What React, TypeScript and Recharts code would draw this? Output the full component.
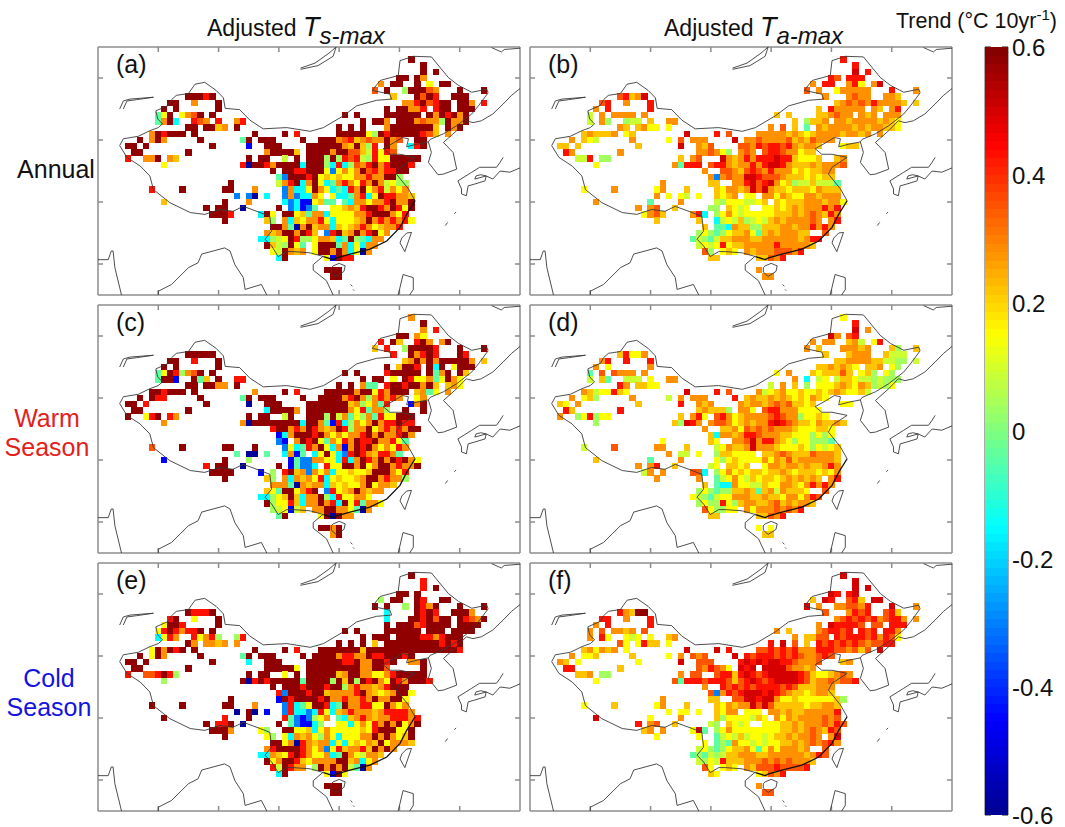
import { ScatterChart, Scatter, XAxis, YAxis } from 'recharts'

// each row is "lon codes lon codes", first row is lat 53, one row per degree southwards
const TOP_LAT = 53
const trendByCode: Record<string, number> = {
  N: -0.58, B: -0.45, L: -0.3, C: -0.15, G: -0.04, g: 0.04, l: 0.09, Y: 0.15,
  A: 0.22, O: 0.28, o: 0.35, R: 0.43, D: 0.5, M: 0.58,
}

const rowsA = [
  '122 M', '124 M', '124 M 126 M', '120 MM 123 MO', '117 O 119 MM 123 M 125 Y 127 MM',
  '116 o 118 M 121 gMMMoO 130 M 134 M', '85 MMMRM 119 A 123 MoMR 129 MMM',
  '82 MM 86 O 90 M 121 OORMoRMM 130 MM 132 O 134 R', '81 M 83 M 90 M 118 M 120 MMOOR 126 RMM 130 MMM',
  '80 GYM 84 YOoM 89 M 111 M 113 M 118 MMMMMM 125 MOMRMOM', '80 GOMC 86 RoO 90 R 93 OR 114 M 116 MMO 120 MMMOoOOgMOOM',
  '85 MM 88 MMAO 93 M 110 M 112 M 114 M 118 OMMMMMMMA 128 MOM', '79 OMRMMM 86 M 96 M 101 M 103 R 110 MMMMMYgMRMMMMMRoA 128 O',
  '77 M 79 OMO 87 M 94 GM 97 MMM 104 M 107 MMMOoRAOoOOMOo 123 MM', '75 MM 78 M 89 M 95 B 98 MMM 105 MMMMMMOAMAgR 118 MO 122 CRM',
  '76 MM 85 M 98 OMMMMA 105 MMMMOMMooAlRYRo', '75 R 78 OOM 82 OA 95 M 97 MM 101 l 103 M 105 MMMgMgRoRlgRYYMMMMM',
  '81 Y 94 RNMMRO 100 MMMMC 105 MMMgCRCgoORMORMMMR', '99 M 101 MMRR 105 MMMYLYOYOMoRORRMM',
  '100 GLMMMRMYAYAYYOOROOMMg', '92 M 100 lORMCOMYCGOROYROMOlYgg', '79 R 84 M 91 MM 96 O 101 LOCCYMOYCGCROMYORlOYO',
  '93 L 95 LN 98 C 101 LOLCCOY.YCCGORCYMRROOA', '81 A 91 M 95 O 101 CLCBBYAGG.GCOOYOORMOOM',
  '88 M 90 MM 94 N 100 M 102 LCBLG..YYAOARMMROMRYM', '89 MMMR 97 CMY 101 MMYAGOOCYYYYOORMMMOYR',
  '91 M 98 Ag 101 OCAYOORYCYYYAOMORORORY', '99 MMOGNOMAOOCAYAOROYAOOR', '98 OAOMMOMRA.LRMAOMORMYO',
  '97 CCglYMRggYOOACGMgGCOO', '98 MAlgMYG.YMMMGOCYCOO', '99 YlMOAO 106 YMMOMOCYNO', '100 CM 108 YBMRR', '', '108 MMM', '109 MM',
]

const rowsB = [
  '122 R', '124 R', '124 D 126 R', '120 Ro 123 RRR', '117 O 119 RR 123 ORY 127 OD', '116 o 118 O 121 YOOOOO 130 R 134 O',
  '85 oRAOD 119 O 123 OoOO 129 OOA', '82 oR 86 O 90 R 121 AOoOoOROOOOA 134 A', '81 O 83 R 90 R 118 A 120 ROOOOO 127 OA 130 OR',
  '80 l 82 O 84 OOOO 89 O 111 A 113 A 118 AAOoOO 125 OAO 129 OOO', '80 l 82 Og 86 gll 90 A 93 OO 114 A 116 gAAO 121 OOAOOOOAOAY',
  '85 OA 88 AOYY 93 Y 110 O 112 o 114 A 116 G 118 OAOOOOAOAOOAAY', '79 AOAAAO 86 YA 96 D 101 R 103 o 108 OOOOOAOAYAOOOOAOOAO 128 O',
  '77 O 79 AYl 87 O 93 Y 95 o 97 OOO 104 D 106 OOoOOOOoAOAoOOO', '75 AA 78 A 88 A 95 D 98 OAo 105 ooORoRRoROAOOA 122 YAA',
  '76 RO 85 O 98 OOoOYg 105 OoO.oRRoOOYAA', '78 llR 82 gg 95 A 97 Oo 102 DOAORORRRDRRAYYYA 121 AO',
  '81 Y 94 OGRRR 100 oRROAOORORDDROAAAOAOOOo', '99 O 102 ooOAoRoOROOOYAYAAOO', '100 OLOoOODDRoooOAAAYAYAA',
  '92 O 100 AA 104 OORDoRDOYAgllAlllG', '79 Y 84 O 91 YO 96 A 101 AYOOAODoDOAAYAAAYOAAA', '91 O 93 Y 95 Yl 98 Y 101 AYAO.YY.OOYOAYYOOAOOO',
  '81 O 90 G 95 O 101 lgYYYllYA.AYAAAOOOAOOY', '88 O 90 Oo 94 A 100 gg.AYlY..YYAYAOAOOOROR', '89 YOoA 97 ORC.gYOYlYYYYYAAAOAOoOARO',
  '91 A 98 A 101 ClYlAglYlAOAOOOOoO.OR', '99 A 101 GGCOAAggAAAOOAOORORO', '98 gYgGgYAAOYGAOAOOOAA..o', '97 GlgGlAAOOOAAOOOOOOAORR',
  '98 lYlYRYAAOOOOOROOOOOA', '99 og 102 YAY 106 OAOOOoooOR', '100 AA 108 AAoOR', '', '108 O', '109 OO',
]

const rowsC = [
  '122 O', '124 M', '124 O 126 R', '120 MM 123 OY', '117 R 119 MA 123 RMO 127 OM', '116 A 118 R 121 gMMMMR 130 M 134 M',
  '85 MMMMM 119 R 122 MORMR 130 MR', '82 MM 86 R 90 M 121 AOMOMOMMMMMO 134 A', '81 M 83 M 90 M 118 M 120 AMMR 125 MCM 129 YMMM',
  '80 GYMRgOoM 89 M 111 M 113 M 118 RMMMMM 125 MGOM 130 MA', '80 GMMB 86 MGA 90 M 93 RR 114 M 116 MM 119 Y 121 MRYYOGY 128 MO 130 Y',
  '85 MM 88 MMOO 93 M 110 M 112 M 114 OGG 118 RMMRMMOMA 128 AOY', '79 MMRMMM 86 M 96 O 101 M 103 R 108 MMMMMOMMYRO 119 MMM 123 AOGY 128 O',
  '77 M 79 MRR 87 M 94 GM 97 MMM 104 M 107 MMMMORMOgORORO 123 YO', '75 MM 78 R 88 M 95 N 98 MMM 105 MMMMMMMAOgYOGR 122 BOM',
  '76 MM 85 M 98 CMMMMO 105 MMMMMMMOYRGOOg 121 M 124 M', '75 M 78 YRM 82 RO 95 M 97 MM 101 l 102 M 105 MMMgMlOGYgOGRYYMMM',
  '81 O 94 ONMMMM 100 MMMMC 105 MMOGBRCgOYOMORRMRR', '99 R 100 MMOROM 106 ROAOMRgOOMYOROROMM', '100 BCOMMMRMOYOYOORMOMOORMO',
  '100 LB 103 OMRMYGOYROMRRMOORYG', '79 o 84 M 91 MM 96 M 101 LYCGROMYCOBOMRMOYOYRO', '93 G 95 NN 98 G 101 COBG.CYMYCLRMROARROG',
  '81 B 91 M 95 g 102 BGLLOOYYCRCOMROMOMRMOY', '88 R 90 MM 94 N 100 M 102 BGLLC.RYYMMOMYOMMOROOM', '89 MMMM 97 B 99 g 101 RMAOLOYOCYYAYYAMMMOYR',
  '91 M 98 Ag 101 OCOAOYRCYAYYAOMMOROOg', '99 OOOGNOAOOCAYAYYOMYOOA', '98 AYGMMYORM.LRYAOMOAOO', '97 CCgYAMACOOMgCRYYOOY',
  '98 MgYYRACOOMORCMYRGOOY', '99 glYBlA 106 OOMMOOYGNO', '100 GM 107 YMNMOO', '', '107 M 108 MOM', '109 OM',
]

const rowsD = [
  '122 Y', '124 R', '124 D 126 O', '120 DO 123 oR', '117 O 119 OO 123 AOl 127 YR', '116 O 118 A 122 OOOAO 130 Ag 134 A',
  '85 ARYYO 119 A 123 AOOO 129 Alll', '82 OR 86 R 90 R 121 AAOOOOAAllgg 134 l', '81 O 83 Y 90 O 118 AA 120 OAOAY 126 AAO 130 Yg',
  '80 G 82 o 84 oOOO 89 O 111 Y 113 O 117 AYAAAoA 125 YAg 129 Yg', '80 l 82 AG 86 lll 90 Y 93 OO 114 O 116 C 118 lY 121 lAAYllglggg',
  '85 RO 88 AAYY 110 l 112 O 114 A 116 g 118 YYYAOAYOAglgY', '79 OAlYYRAY 96 D 101 R 103 o 108 OlYAOYYAYYAYAOAYYAl',
  '77 O 79 YAg 87 O 93 l 95 O 97 OOO 104 R 106 AOAAOAOAYAYOAY', '75 AY 78 O 88 A 95 R 98 OAO 105 OAOOAOoOoAAYA 122 YY',
  '76 RA 85 R 98 AOAAAg 105 OOY.oRROOOYYYY', '75 O 78 gYRg 82 YY 95 A 97 ORY.oROYAOOOOoRoOOgYYAY',
  '81 g 94 AgDRO 100 OooOYAOAOORDRoOAAYOAAOA', '99 O 102 AAOYoOoOoOOOAYYYAAY', '100 ACOOAORRoOOOAAYYYgYgY',
  '92 Y 100 AY 104 OOoDORROAYgYYgggG', '79 l 84 o 91 OO 96 A 101 lYOAAODOOOAYYYAYgYlYA', '93 O 95 ll 98 Y 101 gAAYYYY.AAOoOAAAoOOOA',
  '81 A 90 G 95 O 101 YgYAYYYYOYOAoAOOOOOOA', '88 O 90 OR 94 A 100 lY.AAYA..YOOAOOAOAAORO', '89 lO 92 O 97 ooC.gYOYAYAAYAAOAYAAAYAYO',
  '91 O 98 O 101 GlYOYlAYAAYAOAOAOA.OR', '99 A 101 GCCOYYllAYYOOAYORORO', '98 gYgGggAAOAGAOlOAAAY..o', '97 YlgGlYYOOOAAOAAYOOYORo',
  '98 gYggRYgAOOAAOoAOAOOA', '99 oYgg 103 YY 106 OYOOOoOoOR', '100 AA 108 AAoOR', '', '108 Y 110 Y', '109 AA',
]

const rowsE = [
  '122 M', '124 R', '124 R 126 M', '120 MM 123 M', '117 g 119 MM 123 MR 127 MM', '116 M 118 M 121 g 123 MRO 126 M 130 M 134 M',
  '85 MRRRM 118 C 123 MRMR 128 . 129 MMMO', '82 RM 86 Y 90 M 118 C 122 MMRMoMM 130 MRoO 134 M', '81 YMMR 90 M 118 M 120 MMMoRMMMM 129 . 130 MMMM',
  '80 YRMRORRM 89 M 111 M 113 M 118 MMMMMM 125 MMM 129 MMMM', '80 CYRO 86 RYOR 90 g 93 gR 114 M 116 MM 118 M 120 MMMMRRORMMM',
  '85 MO 88 OOAO 93 O 110 M 112 M 114 M 116 A 118 MMMMMMMMMRMRM', '79 YMOMRM 86 M 96 M 101 M 103 R 107 MMMMMMMAMMMMMMMMMMMMMMMR',
  '77 M 79 YMO 87 M 94 GM 97 MMM 104 M 106 MMMMORROOMRRMMMRM', '75 MM 78 M 89 M 95 C 98 MMM 105 MMMMMMRRMOOMMRM 122 OOM',
  '76 MM 85 M 98 MMMMMY 105 MMMMMMMMMOOMMo 124 M', '75 R 78 ooRM 82 Rg 95 M 97 MM 101 Y 103 M 105 MMMMMAOMMOOYYORMMMMM',
  '81 g 94 MNRMR 99 M 100 MMMMG 105 MMMMgMAMgMRMOYMROMMMR', '99 M 101 MMMRMMMRMMgOROOAORMMM', '100 RLMMMRMMAOOOORMOAYAOMMY',
  '92 M 100 BMRMMMMRMOOROOROMOOMMY', '79 M 84 M 91 MM 96 O 101 LRCGYMMRCGMOORRYYMOYO', '93 N 95 MN 98 B 101 LRCCLCRYCAOROOOAORRRRO',
  '81 M 91 R 95 M 101 RGLBLgYO.GCAOROAOORRROR', '88 M 90 RRM 94 N 100 M 102 GLBBCg..YYCYOYROMOMYOM', '89 MMMM 92 O 97 Yg 101 MMYYACYOYYYYYAYRMMMYYM',
  '91 M 98 Yg 101 YCOAOYgOYCYYYOOMOMOYAM', '99 MMYONR 105 OAOOCYCYAYOAMYOOOA', '98 ORMMMM 104 ROYOLYRAOORAMOMO', '97 CCOAYRMROYYOCGMOYlOOA',
  '98 MYOMMRAYOOOOMMAOCYO', '99 RlMROO 106 gMOMOMlGNO', '100 CM 108 YBMY', '', '108 MMM', '109 MM',
]

const rowsF = [
  '122 D', '124 D', '124 D 126 D', '120 DR 123 RD', '117 A 119 DR 123 oRA 127 DD', '116 D 118 O 121 OOooOR 130 D 134 O',
  '85 ROAMM 119 o 123 ORoR 129 oRA', '82 RR 86 O 90 R 121 OoRoRoROoRRO 134 O', '81 O 83 R 90 R 118 O 120 DRRRRo 127 oo 130 RRR',
  '80 O 82 o 84 OOAO 89 o 111 O 113 A 118 OoRRoR 125 RoR 129 RRO', '80 O 82 RY 86 YlY 90 Y 93 AO 114 O 116 AAoo 121 RoRRRoRORoY',
  '85 oY 88 YRAA 93 Y 110 R 112 D 114 o 116 A 118 RoRoRoRoOooRR', '79 AOYOAO 86 Y 96 D 101 D 103 R 108 ooRoRoROOORRRooOoAo 128 D',
  '77 O 79 YYA 87 A 93 Y 95 O 97 oOo 104 D 106 RoRRRoRoRoOOoRo', '75 OA 78 Y 88 Y 95 D 98 ooo 105 RDRDRDDRRoOOOo 122 AO',
  '76 RR 85 A 98 oORoOY 105 DRD.DDDDoOOAO', '78 AAO 82 gg 95 O 97 oo 101 oRRARDRoRDDDDDRoAYYAOoO',
  '81 Y 94 oGRR 98 Ro 100 RRRoAoRDRoRDDDDRoAOOoOooR', '99 O 102 RoRoRoRRRRoRoAAAOOO', '100 oLORoRDDDRDRoOAAYAOOA',
  '92 O 100 AA 104 ooDDRDDOYYAYYYYYYAg', '79 Y 84 A 91 YO 96 A 101 AYOAOODoDoAAAAAYAAOOA', '93 Y 95 YY 98 Y 101 AYOO.YYY.OOAOAAOOOOOR',
  '81 D 90 Y 95 O 101 AgYYYYlAY.OYOAOOOOoOo', '88 R 90 Oo 94 A 100 lg.AYlY..YYYAAOAOOOoORo', '89 AO 92 O 97 YDG.gYOYYYYYYYYAAOAOoOARo',
  '91 Y 98 Y 101 GlYlAlYYlYAAOAOOoO.OD', '99 Y 101 GgGOYYlYlYYAAOAOoOoRO', '98 lYgGgYAAOYGYOYOOOAO..o', '97 GgGlglAAOOOAAOOOOOOAORo',
  '98 lgYlRAAAOOOoOoOoOOOA', '99 oY 102 YAY 106 OAoooRooooR', '100 AY 108 YAoOR', '', '108 O', '109 oo',
]

// coast and border polylines, [lon, lat]
const landBorder = [
  [124.8, 39.7], [125.1, 40.1], [127.3, 41], [129.5, 42.3], [132, 44.2], [133.1, 45.5], [134.7, 47.6], [134.5, 48.2], [132, 47.7], [129.8, 48.8],
  [128.1, 50.1], [125.3, 53.4], [122.3, 53.5], [120.1, 52.8], [119.8, 50.4], [116.8, 49.6], [115.5, 48], [118.4, 47.4], [118.7, 46.6], [116.2, 46.4],
  [112.9, 45.5], [110.7, 43.9], [107.4, 42], [105.2, 41.4], [101.3, 42], [97.4, 41.8], [95.2, 43.2], [93.5, 44.9], [91.1, 45.1], [90.8, 46.8],
  [89.6, 48], [87.7, 49.3], [86.1, 49], [85, 47.5], [83, 47.2], [82.2, 46.5], [81.7, 45.6], [79.6, 44.7], [79.9, 43.4], [80.7, 42.6], [80, 42],
  [78.6, 41.5], [76.7, 40.6], [74.2, 40.2], [73.6, 39.1], [74.8, 37.2], [77, 35.8], [78.6, 34.2], [79.2, 32], [81.9, 29.9], [85.3, 28.3],
  [87.7, 28], [90.2, 28.8], [92.4, 28.5], [94.1, 29.3], [96.9, 28.3], [98.5, 27.7], [98.8, 25.3], [97.7, 24], [98.8, 22.9], [99.9, 21.2],
  [101.3, 22], [102.4, 22], [105.2, 21.8], [107.4, 21.2],
]
const northCoast = [
  [124.8, 39.7], [122.8, 39.3], [121.2, 38.9], [121.5, 40.2], [120.5, 40.4], [118.6, 39.3], [117.3, 38.6], [118.4, 37.7], [120.1, 37.7],
  [122.6, 37.2], [120.1, 35.6], [119.5, 34.5], [121.5, 32.1], [122.6, 30.2],
]
const southCoast = [
  [122.6, 30.2], [121.2, 28], [120.1, 25.9], [117.9, 23.7], [115.1, 22.4], [111.8, 21.6], [109.6, 21], [109, 20.7], [107.4, 21.2],
]
const hainan = [[109, 19.7], [110, 20.1], [111, 19.7], [110.8, 18.8], [109.5, 18], [108.7, 18.7], [108.7, 19.4], [109, 19.7]]
const taiwan = [[121.2, 25], [122, 25.1], [120.9, 22], [120.1, 23.4], [120.4, 24.2], [121.2, 25]]
const korea = [[124.8, 39.7], [125.3, 38], [124.8, 36.4], [126.4, 34.4], [127.3, 34.5], [129.5, 35.3], [128.9, 38], [127.3, 39.6], [129.5, 41.5], [131.1, 43.1]]
const russiaCoast = [[131.1, 43.1], [132.2, 42.8], [133.6, 43.1], [135.5, 44.2], [137.2, 45.8], [138.6, 47.2], [140, 48.3]]
const japan = [
  [140, 35.5], [138.3, 34.8], [136.7, 35], [135.5, 33.7], [134.4, 34.2], [134.2, 33.4], [132.5, 32.9], [131.4, 32.6], [131.1, 31],
  [130.3, 31.3], [130.3, 32.1], [129.7, 33.4], [132, 34.8], [133.3, 35.6], [136.1, 35.6], [136.7, 36.4], [137.2, 37.2],
]
const shikoku = [[132.5, 33.7], [134.4, 34.2], [133.5, 34.4], [132.7, 34.2], [132.5, 33.7]]
const balkhash = [[73.6, 45], [74.2, 46.3], [75.3, 46.6], [79.2, 46.9], [76.4, 46.5], [74.8, 46.3], [74.2, 45]]
const baikal = [[103.6, 51.6], [106, 52.4], [108.3, 54], [109.5, 55], [109, 53.5], [106.5, 52], [103.6, 51.4]]
const okhotsk = [[135.3, 54.9], [136.9, 54.2], [137.4, 54.6], [140, 54.8]]
const arabianCoast = [[70, 20.7], [71.7, 20.7], [72.2, 22.1], [72.5, 22.1], [72.8, 19.4], [73.9, 15]]
const bengalCoast = [[80, 15], [80, 15.6], [82.2, 16.7], [85, 19.4], [86.6, 20.2], [87.2, 21.6], [91, 22.6], [91.9, 22.1], [92.7, 19.9], [94.1, 17.8], [94.4, 15.9], [97.1, 16.7], [98, 15]]
const vietnamCoast = [[107.4, 21.3], [105.7, 19.9], [105.7, 19], [107.9, 17.3], [109, 15]]
const luzon = [[119.8, 15], [120.6, 18.3], [122.3, 17.8], [122.3, 15.9], [121.7, 15]]
const okinawa = [[127.6, 26.2], [128, 26.7]]
const amami = [[129.1, 28.1], [129.4, 28.4]]
const xisha = [[111.9, 16.7], [112.2, 16.4]]
const nansha = [[112.3, 15.9], [112.5, 15.7]]
const coastlines = [landBorder, northCoast, hainan, taiwan, korea, russiaCoast, japan, shikoku, balkhash, baikal, okhotsk, arabianCoast, bengalCoast, vietnamCoast, luzon, okinawa, amami, xisha, nansha]

const lonTicks = [80, 90, 100, 110, 120, 130]
const latTicks = [20, 30, 40, 50]
const colorbarTicks = [0.6, 0.4, 0.2, 0, -0.2, -0.4, -0.6]

// jet colour stops by trend value
const jetStops: [number, number[]][] = [
  [-0.6, [0, 0, 143]], [-0.45, [0, 0, 255]], [-0.15, [0, 255, 255]], [0.15, [255, 255, 0]], [0.45, [255, 0, 0]], [0.6, [128, 0, 0]],
]
function jet(v: number) {
  for (let i = 1; i < jetStops.length; i++) {
    const [v0, c0] = jetStops[i - 1]
    const [v1, c1] = jetStops[i]
    if (v <= v1) {
      const t = Math.max(0, (v - v0) / (v1 - v0))
      return `rgb(${c0.map((c, k) => Math.round(c + (c1[k] - c) * t)).join(',')})`
    }
  }
  return 'rgb(128,0,0)'
}

function parseRows(rows: string[]) {
  const cells: { lon: number; lat: number; trend: number }[] = []
  rows.forEach((row, i) => {
    let lon = 0
    row.split(' ').filter(Boolean).forEach((token) => {
      if (/^\d+$/.test(token)) {
        lon = +token
        return
      }
      ;[...token].forEach((code) => {
        if (code !== '.') cells.push({ lon, lat: TOP_LAT - i, trend: trendByCode[code] })
        lon += 1
      })
    })
  })
  return cells
}

const CELL_W = 6.2
const CELL_H = 6.3
const FRAME = '#8c8c8c'

function Cell(props: any) {
  return <rect x={props.cx - CELL_W / 2} y={props.cy - CELL_H / 2} width={CELL_W} height={CELL_H} fill={jet(props.payload.trend)} shapeRendering="crispEdges" />
}

function NoDot() {
  return <g />
}

const textBase: any = { position: 'absolute', fontFamily: 'Liberation Sans', color: '#111', whiteSpace: 'nowrap', lineHeight: 1 }

function line(points: number[][], stroke: string, strokeWidth: number, key: string | number) {
  return (
    <Scatter
      key={key}
      data={points.map(([lon, lat]) => ({ lon, lat }))}
      line={{ stroke, strokeWidth }}
      shape={NoDot}
      isAnimationActive={false}
    />
  )
}

const blankLabel = () => ''
const frameAxis: any = { type: 'number', tickFormatter: blankLabel, interval: 0, tickSize: -5, stroke: FRAME, strokeWidth: 1.5 }

function Panel({ rows, left, top, label }: { rows: string[]; left: number; top: number; label: string }) {
  const cells = parseRows(rows)
  return (
    <div style={{ position: 'absolute', left: left - 2, top: top - 2 }}>
      <ScatterChart width={426} height={252} margin={{ top: 1, right: 1, bottom: 1, left: 1 }}>
        <Scatter data={cells} shape={Cell} isAnimationActive={false} />
        {coastlines.map((pts, i) => line(pts, '#3a3a3a', 0.9, i))}
        {line(southCoast, '#111', 1.3, 'coast')}
        {/* the top and right axes only draw ticks when a series is bound to them */}
        <Scatter xAxisId="top" yAxisId="right" data={cells.slice(0, 1)} shape={NoDot} isAnimationActive={false} />
        <XAxis {...frameAxis} dataKey="lon" domain={[70, 140]} ticks={lonTicks} height={1} />
        <XAxis {...frameAxis} xAxisId="top" orientation="top" dataKey="lon" domain={[70, 140]} ticks={lonTicks} height={1} />
        <YAxis {...frameAxis} dataKey="lat" domain={[15, 55]} ticks={latTicks} width={1} />
        <YAxis {...frameAxis} yAxisId="right" orientation="right" dataKey="lat" domain={[15, 55]} ticks={latTicks} width={1} />
      </ScatterChart>
      <div style={{ ...textBase, left: 20, top: 7, fontSize: 25 }}>{label}</div>
    </div>
  )
}

const BAND_COUNT = 90
const colorbarBands = Array.from({ length: BAND_COUNT }, (_, i) => ({ slot: 0.5, trend: -0.6 + ((i + 0.5) * 1.2) / BAND_COUNT }))

function Band(props: any) {
  const h = 768 / BAND_COUNT + 0.6
  return <rect x={props.cx - 11.5} y={props.cy - h / 2} width={23} height={h} fill={jet(props.payload.trend)} shapeRendering="crispEdges" />
}

function Colorbar() {
  return (
    <div style={{ position: 'absolute', left: 984, top: 27 }}>
      <ScatterChart width={81} height={800} margin={{ top: 20, right: 0, bottom: 12, left: 0 }}>
        <Scatter data={colorbarBands} shape={Band} isAnimationActive={false} />
        <Scatter yAxisId="labels" data={colorbarBands.slice(0, 1)} shape={NoDot} isAnimationActive={false} />
        <XAxis type="number" dataKey="slot" domain={[0, 1]} hide />
        <YAxis
          type="number"
          dataKey="trend"
          domain={[-0.6, 0.6]}
          ticks={colorbarTicks}
          interval={0}
          width={1}
          tickFormatter={blankLabel}
          tickSize={-6}
          axisLine={{ stroke: '#555' }}
          tickLine={{ stroke: '#222' }}
        />
        <YAxis
          yAxisId="labels"
          orientation="right"
          type="number"
          dataKey="trend"
          domain={[-0.6, 0.6]}
          ticks={colorbarTicks}
          interval={0}
          width={57}
          axisLine={{ stroke: '#555' }}
          tickSize={-6}
          tickMargin={10}
          tickLine={{ stroke: '#222' }}
          tick={{ fontSize: 24, fill: '#111', fontFamily: 'Liberation Sans' }}
          tickFormatter={(v: number) => String(v)}
        />
      </ScatterChart>
    </div>
  )
}

function Title({ left, sub }: { left: number; sub: string }) {
  return (
    <div style={{ ...textBase, left, top: 14, fontSize: 23 }}>
      Adjusted <i style={{ fontSize: 27 }}>T</i>
      <i style={{ fontSize: 24, position: 'relative', top: 8 }}>{sub}</i>
    </div>
  )
}

function RowLabel({ lines, center, top, color }: { lines: string[]; center: number; top: number; color: string }) {
  return (
    <div style={{ ...textBase, left: center - 60, width: 120, top, textAlign: 'center', fontSize: 25, color, lineHeight: '29px' }}>
      {lines.map((l) => (
        <div key={l}>{l}</div>
      ))}
    </div>
  )
}

export default function App() {
  return (
    <div style={{ position: 'absolute', left: 0, top: 0, width: 1065, height: 827, background: '#fff', overflow: 'hidden' }}>
      <Title left={207} sub="s-max" />
      <Title left={664} sub="a-max" />
      <div style={{ ...textBase, left: 896, top: 11, fontSize: 21.5 }}>
        Trend (°C 10yr<sup style={{ fontSize: 15, lineHeight: 0 }}>-1</sup>)
      </div>
      <RowLabel lines={['Annual']} center={56} top={155} color="#111" />
      <RowLabel lines={['Warm', 'Season']} center={47} top={404} color="#e3211c" />
      <RowLabel lines={['Cold', 'Season']} center={49} top={664} color="#1414e0" />
      <Panel rows={rowsA} left={98} top={47} label="(a)" />
      <Panel rows={rowsB} left={530} top={47} label="(b)" />
      <Panel rows={rowsC} left={98} top={305} label="(c)" />
      <Panel rows={rowsD} left={530} top={305} label="(d)" />
      <Panel rows={rowsE} left={98} top={563} label="(e)" />
      <Panel rows={rowsF} left={530} top={563} label="(f)" />
      <Colorbar />
    </div>
  )
}
